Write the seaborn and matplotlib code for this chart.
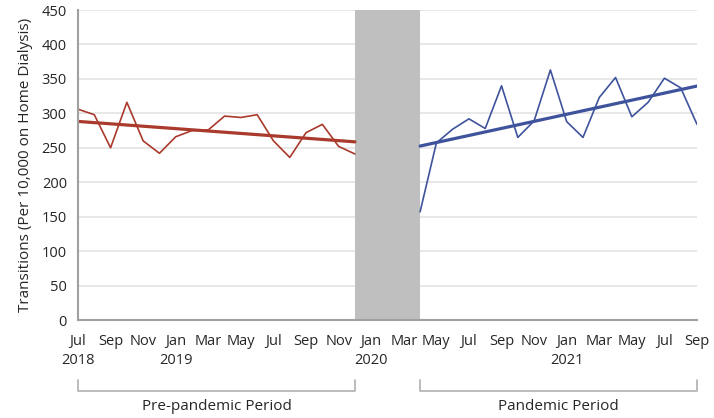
import numpy as np
import pandas as pd
import matplotlib
matplotlib.use("Agg")
import matplotlib.pyplot as plt
import seaborn as sns

# month index counted from Jul 2018 (0) to Sep 2021 (38)
pre_months = list(range(0, 18))     # Jul 2018 .. Dec 2019
pre_values = [306, 298, 250, 316, 260, 242, 266, 275, 276, 296,
              294, 298, 260, 236, 272, 284, 252, 241]

post_months = list(range(21, 39))   # Apr 2020 .. Sep 2021
post_values = [157, 257, 277, 292, 278, 340, 265, 289, 363, 288,
               265, 323, 352, 295, 316, 351, 337, 284]

gap_start, gap_end = 17, 21         # Dec 2019 .. Apr 2020

tick_pos = list(range(0, 39, 2))
tick_labels = ["Jul\n2018", "Sep", "Nov", "Jan\n2019", "Mar", "May", "Jul", "Sep", "Nov",
               "Jan\n2020", "Mar", "May", "Jul", "Sep", "Nov", "Jan\n2021", "Mar", "May",
               "Jul", "Sep"]

red = "#a93a2c"
blue = "#3f539c"

pre_df = pd.DataFrame({"month": pre_months, "value": pre_values})
post_df = pd.DataFrame({"month": post_months, "value": post_values})

sns.set_style("white")
plt.rcParams["font.family"] = ["Open Sans", "DejaVu Sans"]

fig = plt.figure(figsize=(7.14, 4.18), dpi=100)
ax = fig.add_axes([78 / 714, 1 - 320 / 418, (697 - 78) / 714, 310 / 418])

# --- gap shading ---
ax.axvspan(gap_start, gap_end, color="#bfbfbf", lw=0, zorder=3)

# --- series + linear trends ---
sns.lineplot(data=pre_df, x="month", y="value", color=red, lw=1.2, ax=ax, zorder=4)
sns.regplot(data=pre_df, x="month", y="value", scatter=False, ci=None,
            color=red, line_kws={"lw": 2.3, "zorder": 5}, ax=ax)
sns.lineplot(data=post_df, x="month", y="value", color=blue, lw=1.2, ax=ax, zorder=4)
sns.regplot(data=post_df, x="month", y="value", scatter=False, ci=None,
            color=blue, line_kws={"lw": 2.3, "zorder": 5}, ax=ax)

# --- axes styling ---
ax.set_xlim(0, 38)
ax.set_ylim(0, 450)
ax.set_yticks(range(0, 451, 50))
ax.set_xticks(tick_pos)
ax.set_xticklabels(tick_labels, fontsize=10.5, linespacing=1.4)
ax.tick_params(axis="y", labelsize=10.5, pad=2)
ax.tick_params(axis="x", pad=4)
ax.tick_params(axis="both", length=6, width=1.2, color="#a0a0a0", direction="out")
ax.set_xlabel("")
ax.set_ylabel("Transitions (Per 10,000 on Home Dialysis)", fontsize=11, labelpad=6)
ax.yaxis.grid(True, color="#e4e4e4", lw=1.2)
ax.set_axisbelow(True)
for side in ["top", "right"]:
    ax.spines[side].set_visible(False)
for side in ["left", "bottom"]:
    ax.spines[side].set_color("#a0a0a0")
    ax.spines[side].set_linewidth(1.5)
    ax.spines[side].set_zorder(6)

# --- period brackets below the axis ---
tr = ax.get_xaxis_transform()
y_top = -(380 - 320) / 310
y_bot = -(391 - 320) / 310
for x0, x1, label in [(0, gap_start, "Pre-pandemic Period"), (gap_end, 38, "Pandemic Period")]:
    ax.plot([x0, x0, x1, x1], [y_top, y_bot, y_bot, y_top], transform=tr,
            color="#b0b0b0", lw=1.2, clip_on=False)
    ax.text((x0 + x1) / 2, -(406 - 320) / 310, label, transform=tr,
            ha="center", va="center", fontsize=11)

fig.savefig("out.png", dpi=100)
